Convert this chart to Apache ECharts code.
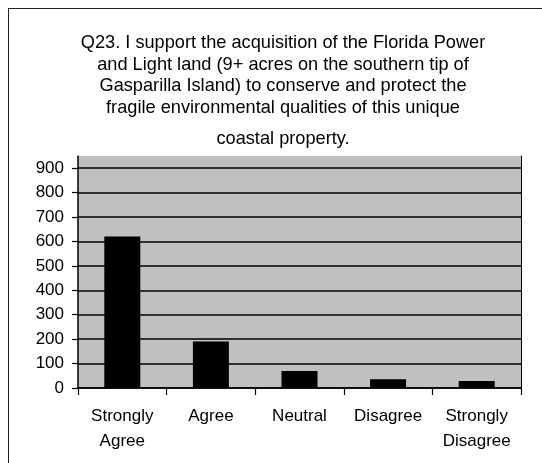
<!DOCTYPE html>
<html><head><meta charset="utf-8">
<script src="https://cdn.jsdelivr.net/npm/echarts@6/dist/echarts.min.js"></script>
<style>html,body{margin:0;padding:0;background:#fff}#c{width:542px;height:463px}</style>
</head><body><div id="c"></div>
<script>
const titleLines = [
  "Q23. I support the acquisition of the Florida Power",
  "and Light land (9+ acres on the southern tip of",
  "Gasparilla Island) to conserve and protect the",
  "fragile environmental qualities of this unique"
];
const titleLastLine = "coastal property.";
const categories = ["Strongly\nAgree", "Agree", "Neutral", "Disagree", "Strongly\nDisagree"];
const responses = [620, 190, 70, 36, 29];
const yMin = 0, yMax = 950, yInterval = 100;

const FONT = '"Liberation Sans", Arial, sans-serif';
const titleStyle = {fontFamily: FONT, fontSize: 18.2, fontWeight: 'normal', color: '#000', lineHeight: 21.75};
const chart = echarts.init(document.getElementById('c'), null, {renderer: 'canvas'});
chart.setOption({
  backgroundColor: '#ffffff',
  animation: false,
  title: [{
    text: titleLines.join('\n'),
    left: 278, textAlign: 'center', top: 27,
    textStyle: titleStyle
  }, {
    text: titleLastLine,
    left: 278, textAlign: 'center', top: 123,
    textStyle: titleStyle
  }],
  graphic: [
    {type: 'line', shape: {x1: 8, y1: 8.5, x2: 542, y2: 8.5}, style: {stroke: '#222', lineWidth: 1}},
    {type: 'line', shape: {x1: 8.5, y1: 8, x2: 8.5, y2: 463}, style: {stroke: '#222', lineWidth: 1}}
  ],
  grid: {left: 78, right: 21, top: 156, bottom: 75, show: true, backgroundColor: '#c0c0c0', borderWidth: 0},
  xAxis: {
    type: 'category',
    data: categories,
    axisLine: {lineStyle: {color: '#000', width: 1.5}},
    axisTick: {show: true, alignWithLabel: false, length: 7, lineStyle: {color: '#000', width: 1.2}},
    axisLabel: {interval: 0, fontFamily: FONT, fontSize: 17, lineHeight: 25, margin: 15.5, color: '#000'}
  },
  yAxis: [{
    type: 'value',
    min: yMin, max: yMax, interval: yInterval,
    axisLine: {show: true, lineStyle: {color: '#000', width: 1.5}},
    axisTick: {show: true, length: 6, lineStyle: {color: '#000', width: 1.2}},
    axisLabel: {fontFamily: FONT, fontSize: 17, margin: 14, color: '#000', showMaxLabel: false},
    splitLine: {show: true, showMaxLine: false, lineStyle: {color: '#000', width: 1.5}}
  }, {
    type: 'value', position: 'right',
    min: yMin, max: yMax, interval: yInterval,
    axisLine: {show: true, lineStyle: {color: '#000', width: 1}},
    axisTick: {show: false}, axisLabel: {show: false}, splitLine: {show: false}
  }],
  series: [{
    type: 'bar',
    data: responses,
    yAxisIndex: 0,
    barWidth: 36,
    itemStyle: {color: '#000'}
  }]
});
</script></body></html>
